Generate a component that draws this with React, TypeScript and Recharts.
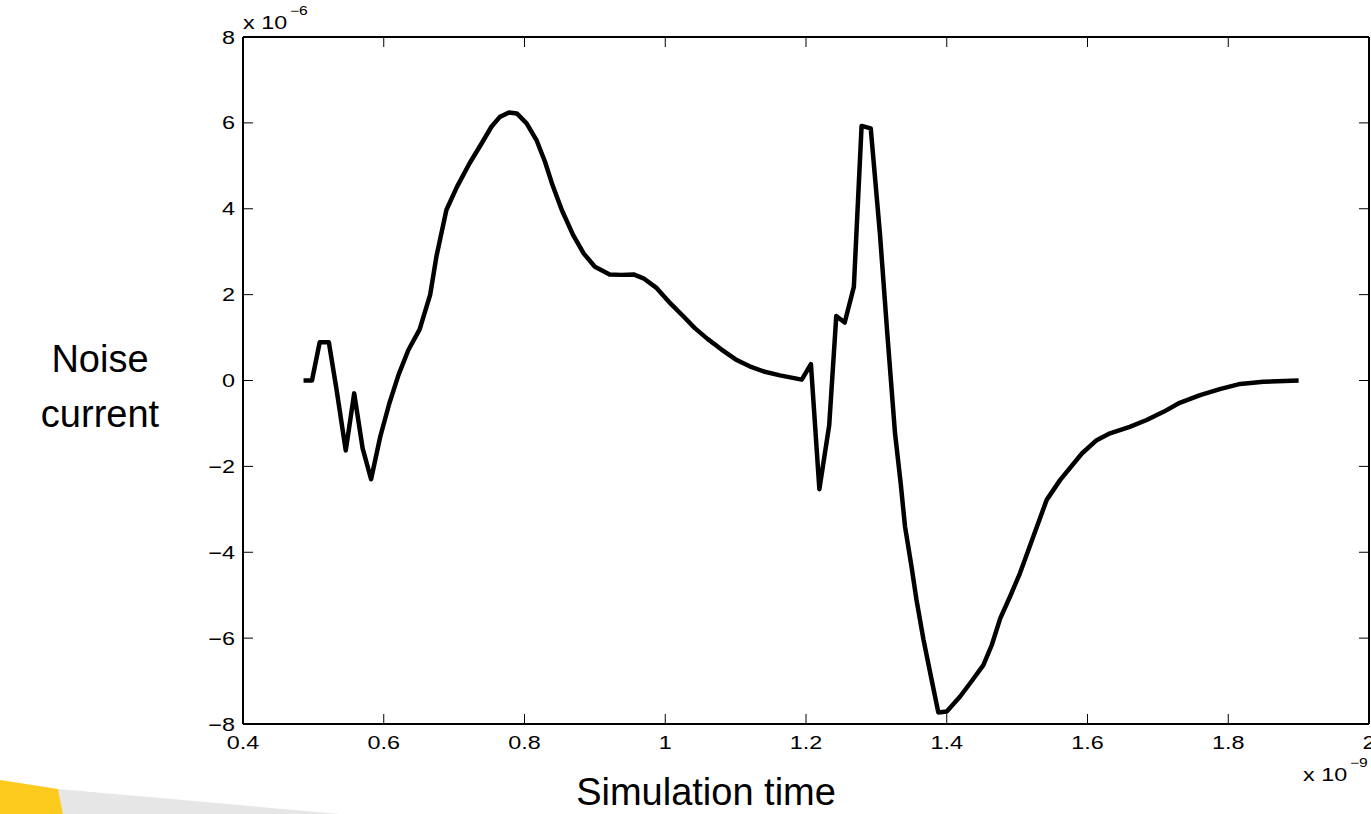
import { LineChart, Line, XAxis, YAxis } from "recharts";

// simulation time in ns (x 10^-9 s), noise current in uA (x 10^-6 A)
const timeNs = [
  0.486, 0.498, 0.509, 0.522, 0.533, 0.546, 0.558, 0.57, 0.582, 0.595, 0.608, 0.621,
  0.635, 0.651, 0.666, 0.675, 0.689, 0.704, 0.722, 0.739, 0.753, 0.765, 0.778, 0.789,
  0.803, 0.817, 0.829, 0.839, 0.853, 0.869, 0.884, 0.9, 0.921, 0.938, 0.955, 0.969,
  0.988, 1.007, 1.026, 1.042, 1.06, 1.08, 1.1, 1.12, 1.14, 1.163, 1.194, 1.207,
  1.219, 1.233, 1.243, 1.255, 1.268, 1.279, 1.292, 1.305, 1.3155, 1.3265, 1.3345, 1.3407,
  1.35, 1.357, 1.367, 1.3785, 1.388, 1.4, 1.419, 1.435, 1.452, 1.464, 1.476, 1.49,
  1.504, 1.542, 1.561, 1.592, 1.613, 1.632, 1.66, 1.684, 1.708, 1.731, 1.76, 1.788,
  1.817, 1.85, 1.9,
];
const noiseMicro = [
  0, 0, 0.89, 0.89, -0.22, -1.63, -0.3, -1.58, -2.3, -1.31, -0.53, 0.13,
  0.71, 1.19, 2.0, 2.9, 3.97, 4.51, 5.06, 5.52, 5.91, 6.14, 6.24, 6.22,
  5.99, 5.6, 5.1, 4.59, 3.97, 3.39, 2.96, 2.65, 2.47, 2.46, 2.47, 2.38,
  2.15, 1.8, 1.49, 1.22, 0.97, 0.72, 0.49, 0.33, 0.21, 0.12, 0.02, 0.38,
  -2.53, -1.04, 1.5, 1.35, 2.18, 5.93, 5.87, 3.43, 1.1, -1.23, -2.39, -3.4,
  -4.34, -5.11, -6.04, -6.97, -7.73, -7.71, -7.36, -7.01, -6.63, -6.16, -5.54, -5.03,
  -4.49, -2.78, -2.32, -1.7, -1.39, -1.23, -1.08, -0.92, -0.73, -0.52, -0.34, -0.2,
  -0.08, -0.03, 0.0,
];
const xTicks = [0.4, 0.6, 0.8, 1, 1.2, 1.4, 1.6, 1.8, 2];
const yTicks = [-8, -6, -4, -2, 0, 2, 4, 6, 8];

const data = timeNs.map((t, i) => ({ t, v: noiseMicro[i] }));

const FONT = "'Liberation Sans', Arial, Helvetica, sans-serif";
const STRETCH = 1.3; // the small axis text is stretched sideways
const TICK_LEN = 10;

const fmtX = (v: number) => String(Number(v.toFixed(1)));
const fmtY = (v: number) => (v < 0 ? "\u2212" + Math.abs(v) : String(v));

function Wide({ x, y, anchor, size, sx = STRETCH, children }: any) {
  return (
    <g transform={`translate(${x},${y}) scale(${sx},1)`}>
      <text textAnchor={anchor} fontSize={size} fontFamily={FONT} fill="#000">
        {children}
      </text>
    </g>
  );
}

function BottomTick({ x, y, payload }: any) {
  return (
    <g>
      <line x1={x} x2={x} y1={y} y2={y - TICK_LEN} stroke="#000" />
      <Wide x={x} y={y + 24.5} anchor="middle" size={18}>
        {fmtX(payload.value)}
      </Wide>
    </g>
  );
}

function TopTick({ x, y }: any) {
  return <line x1={x} x2={x} y1={y} y2={y + TICK_LEN} stroke="#000" />;
}

function LeftTick({ x, y, payload }: any) {
  return (
    <g>
      <line x1={x} x2={x + TICK_LEN} y1={y} y2={y} stroke="#000" />
      <Wide x={x - 8} y={y + 6.5} anchor="end" size={18}>
        {fmtY(payload.value)}
      </Wide>
    </g>
  );
}

function RightTick({ x, y }: any) {
  return <line x1={x} x2={x - TICK_LEN} y1={y} y2={y} stroke="#000" />;
}

const frame = { stroke: "#000", strokeWidth: 2 };

export default function App() {
  return (
    <div style={{ position: "absolute", left: 0, top: 0, width: 1371, height: 814, background: "#fff" }}>
      <LineChart
        width={1371}
        height={814}
        data={data}
        margin={{ top: 36, right: 1, bottom: 89, left: 242 }}
      >
        <XAxis
          type="number"
          dataKey="t"
          domain={[0.4, 2]}
          ticks={xTicks}
          interval={0}
          height={1}
          tickSize={0}
          tickMargin={0}
          tickLine={false}
          tick={<BottomTick />}
          axisLine={frame}
          allowDataOverflow
        />
        <XAxis
          xAxisId="top"
          orientation="top"
          type="number"
          dataKey="t"
          domain={[0.4, 2]}
          ticks={xTicks}
          interval={0}
          height={1}
          tickSize={0}
          tickMargin={0}
          tickLine={false}
          tick={<TopTick />}
          axisLine={frame}
          allowDataOverflow
        />
        <YAxis
          type="number"
          domain={[-8, 8]}
          ticks={yTicks}
          interval={0}
          width={1}
          tickSize={0}
          tickMargin={0}
          tickLine={false}
          tick={<LeftTick />}
          axisLine={frame}
          allowDataOverflow
        />
        <YAxis
          yAxisId="right"
          orientation="right"
          type="number"
          domain={[-8, 8]}
          ticks={yTicks}
          interval={0}
          width={1}
          tickSize={0}
          tickMargin={0}
          tickLine={false}
          tick={<RightTick />}
          axisLine={frame}
          allowDataOverflow
        />
        <Line
          type="linear"
          dataKey="v"
          stroke="#000"
          strokeWidth={4.5}
          strokeLinejoin="round"
          dot={false}
          activeDot={false}
          isAnimationActive={false}
        />
      </LineChart>

      <svg
        width={1371}
        height={814}
        style={{ position: "absolute", left: 0, top: 0, pointerEvents: "none" }}
      >
        {/* slide decoration, bottom left */}
        <polygon points="58,789 340,814 63,814" fill="#e6e6e6" />
        <polygon points="0,780 58,789 63,814 0,814" fill="#fdca1e" />

        {/* exponent notes */}
        <Wide x={243} y={29} anchor="start" size={18}>x 10</Wide>
        <Wide x={290} y={15} anchor="start" size={12}>{"\u22126"}</Wide>
        <Wide x={1303} y={781} anchor="start" size={18}>x 10</Wide>
        <Wide x={1350} y={767} anchor="start" size={12}>{"\u22129"}</Wide>

        {/* axis titles */}
        <Wide x={100} y={372} anchor="middle" size={38} sx={1}>Noise</Wide>
        <Wide x={100} y={427} anchor="middle" size={38} sx={1}>current</Wide>
        <Wide x={706} y={805} anchor="middle" size={38} sx={1}>Simulation time</Wide>
      </svg>
    </div>
  );
}
